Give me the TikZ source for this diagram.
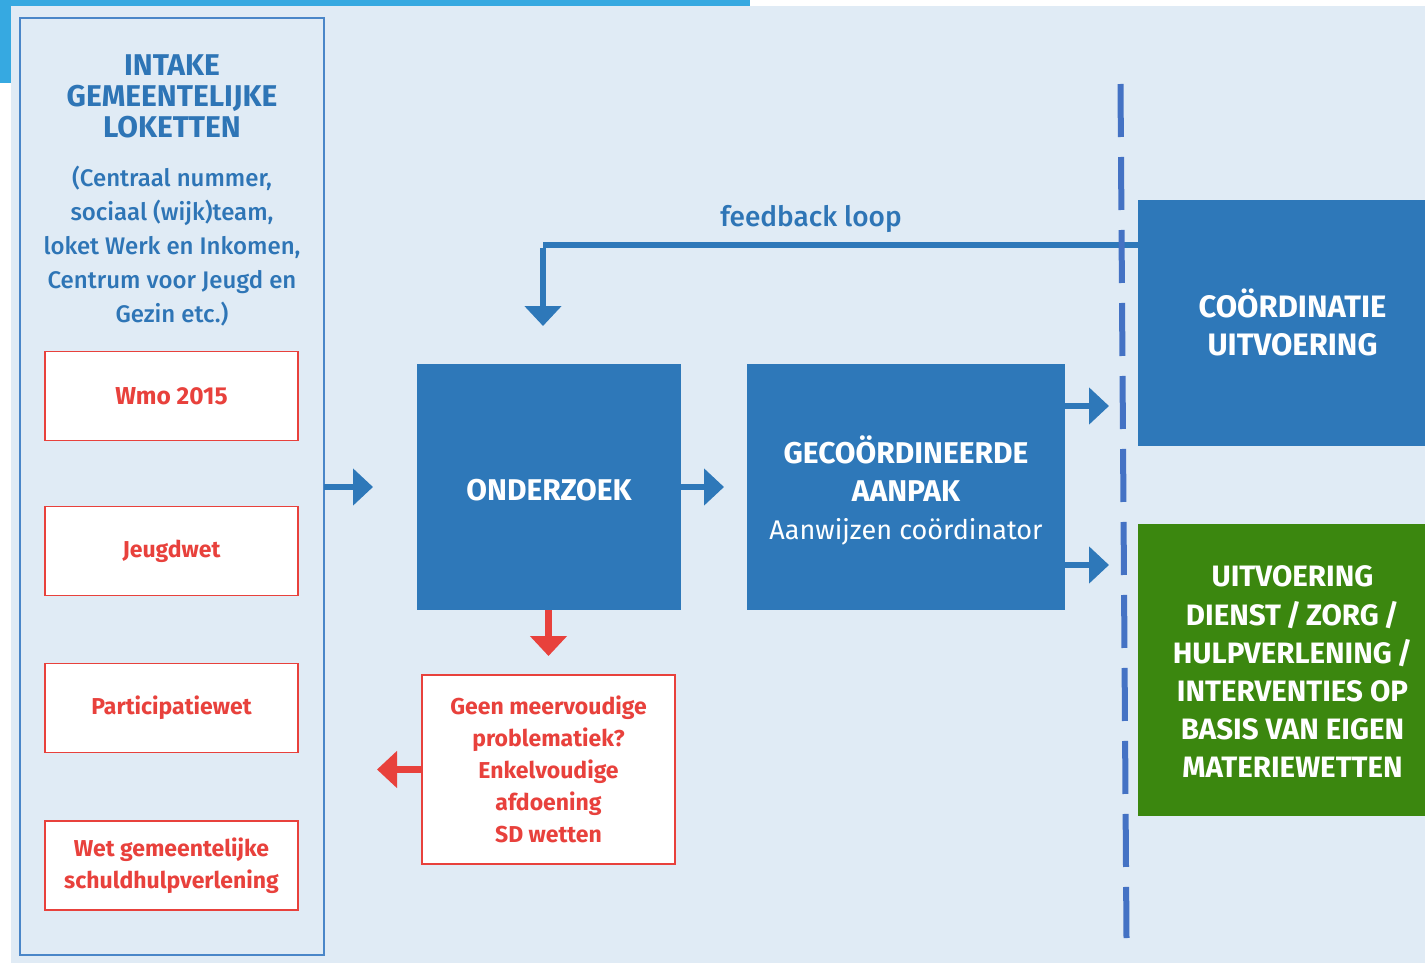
\documentclass[tikz,border=0pt]{standalone}
\usepackage{fontspec}
\setmainfont{Fira Sans}
\newfontfamily\medfont{Fira Sans Medium}
\usetikzlibrary{arrows.meta,calc}
\definecolor{bgblue}{HTML}{E0EBF5}
\definecolor{cyanband}{HTML}{36A9E1}
\definecolor{txtblue}{HTML}{2E75B6}
\definecolor{boxblue}{HTML}{2E78B9}
\definecolor{edgeblue}{HTML}{4A86C8}
\definecolor{dashblue}{HTML}{4472C4}
\definecolor{redc}{HTML}{E8413C}
\definecolor{greenc}{HTML}{3B870F}
\tikzset{
  lawbox/.style={draw=redc, line width=1.8pt, fill=white, text=redc, minimum width=253pt, minimum height=89pt, inner sep=0pt, outer sep=0pt, align=center, font=\fontsize{23}{32}\selectfont\bfseries},
  bluebox/.style={fill=boxblue, text=white, inner sep=0pt, outer sep=0pt, align=center, font=\fontsize{30}{38}\selectfont\bfseries},
  greenbox/.style={fill=greenc, text=white, inner sep=0pt, outer sep=0pt, align=center, font=\fontsize{29.5}{38.2}\selectfont\bfseries},
  barrow/.style={draw=boxblue, line width=6.5pt, -{Triangle[width=36pt,length=20pt]}},
  rarrow/.style={draw=redc, line width=6.5pt, -{Triangle[width=36pt,length=20pt]}},
}
\begin{document}
\begin{tikzpicture}[x=1pt,y=-1pt]
\useasboundingbox (0,0) rectangle (1425,963);
% background
\fill[white] (0,0) rectangle (1425,963);
\fill[cyanband] (0,0) rectangle (750,6);
\fill[cyanband] (0,0) rectangle (11,83);
\fill[bgblue] (11,6) rectangle (1425,963);

% intake column
\node[draw=edgeblue, line width=2pt, minimum width=304pt, minimum height=937pt, inner sep=0pt, outer sep=0pt] (intake) at (172,486.5) {};
\node[text=txtblue, align=center, font=\fontsize{30}{31}\selectfont\bfseries] (title) at (172,96) {INTAKE\\GEMEENTELIJKE\\LOKETTEN};
\node[text=txtblue, align=center, font=\fontsize{24}{34}\selectfont\medfont] (desc) at (172,246) {(Centraal nummer,\\sociaal (wijk)team,\\loket Werk en Inkomen,\\Centrum voor Jeugd en\\Gezin etc.)};

\node[lawbox] (wmo) at (171.5,396) {\fontsize{24.5}{32}\selectfont Wmo 2015};
\node[lawbox] (jeugd) at (171.5,551) {Jeugdwet};
\node[lawbox] (part) at (171.5,708) {Participatiewet};
\node[lawbox] (wgs) at (171.5,865.5) {Wet gemeentelijke\\schuldhulpverlening};

% main boxes
\node[bluebox, minimum width=264pt, minimum height=246pt] (onderzoek) at (549,487) {};
\node[bluebox] (onderzoektxt) at ([yshift=-3pt]onderzoek.center) {ONDERZOEK};
\node[bluebox, minimum width=318pt, minimum height=246pt] (aanpak) at (906,487) {};
\node[bluebox] (aanpaktxt) at ([yshift=-3pt]aanpak.center) {GECO\"ORDINEERDE\\AANPAK\\\fontsize{27}{38}\fontseries{m}\selectfont Aanwijzen co\"ordinator};
\node[bluebox, minimum width=287pt, minimum height=246pt] (coord) at (1281.5,323) {};
\node[bluebox, font=\fontsize{31}{38}\selectfont\bfseries] (coordtxt) at ([xshift=11pt,yshift=1pt]coord.center) {CO\"ORDINATIE\\UITVOERING};
\node[greenbox, minimum width=287pt, minimum height=292pt] (uitv) at (1281.5,670) {};
\node[greenbox] (uitvtxt) at ([xshift=11pt,yshift=-2pt]uitv.center) {UITVOERING\\DIENST\,/\,ZORG\,/\\HULPVERLENING\,/\\INTERVENTIES OP\\BASIS VAN EIGEN\\MATERIEWETTEN};

\node[draw=redc, line width=1.8pt, fill=white, text=redc, minimum width=253pt, minimum height=189pt, inner sep=0pt, outer sep=0pt, align=center, font=\fontsize{23}{32}\selectfont\bfseries] (geen) at (548.5,769.5) {Geen meervoudige\\problematiek?\\Enkelvoudige\\afdoening\\SD wetten};

% feedback label
\node[text=txtblue, font=\fontsize{28}{30}\selectfont\medfont] (fblabel) at (811,219) {feedback loop};

% connectors
\draw[barrow, shorten >=44pt] (intake.east |- onderzoek.west) -- (onderzoek.west);
\draw[barrow, shorten >=23pt] (onderzoek.east) -- (aanpak.west);
\coordinate (a1) at (1065,406);
\coordinate (a2) at (1065,565);
\draw[barrow, shorten >=29pt] (a1) -- (a1 -| coord.west);
\draw[barrow, shorten >=29pt] (a2) -- (a2 -| uitv.west);
\coordinate (fbstart) at (1138,245);
\coordinate (fbturn) at (543,245);
\coordinate (fbend) at (543,326);
\draw[draw=boxblue, line width=6.5pt] (fbstart) -- (fbturn);
\draw[barrow] ([yshift=-3.25pt]fbturn) -- (fbend);

\draw[rarrow, shorten >=19pt] (onderzoek.south -| geen.north) -- (geen.north);
\draw[rarrow, shorten >=53pt] (geen.west) -- (geen.west -| intake.east);

% dashed separator
\coordinate (d1) at (1120.5,84);
\coordinate (d2) at (1126.5,938);
\draw[dashblue, line width=6pt, dash pattern=on 53pt off 20pt] (d1) -- (d2);
\end{tikzpicture}
\end{document}
